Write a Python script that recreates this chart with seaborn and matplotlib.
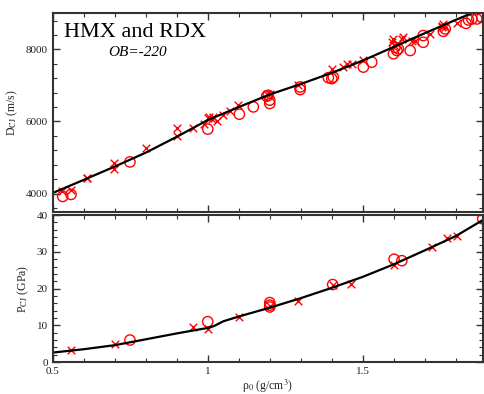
import numpy as np
import pandas as pd
import matplotlib
matplotlib.use("Agg")
import matplotlib.pyplot as plt
import seaborn as sns
from matplotlib.ticker import MultipleLocator

# kurva model (garis hitam)
rho_fit = [0.49, 0.6, 0.7, 0.8, 0.9, 1.0, 1.1, 1.2, 1.3, 1.4, 1.5, 1.6, 1.7, 1.8, 1.9]
D_fit = [3980, 4380, 4750, 5135, 5575, 6040, 6400, 6750, 7040, 7350, 7690, 8070, 8450, 8820, 9180]

rho_fit_p = [0.49, 0.6, 0.7, 0.8, 0.9, 1.0, 1.02, 1.05, 1.1, 1.2, 1.3, 1.4, 1.5, 1.6, 1.7, 1.8, 1.9]
P_fit = [2.5, 3.5, 4.6, 6.2, 7.8, 9.3, 9.8, 11.1, 12.4, 14.8, 17.4, 20.2, 23.2, 26.6, 30.4, 34.3, 39.3]

# data eksperimen D_CJ (x)
rho_D_x = [0.529, 0.558, 0.610, 0.612, 0.699, 0.699, 0.800, 0.900, 0.900, 0.952, 0.988, 1.0, 1.005,
           1.013, 1.018, 1.029, 1.048, 1.072, 1.099, 1.19, 1.20, 1.292, 1.40, 1.437, 1.448, 1.465,
           1.502, 1.594, 1.599, 1.604, 1.610, 1.626, 1.631, 1.658, 1.669, 1.717, 1.755, 1.760,
           1.766, 1.755, 1.803]
D_x = [4083, 4105, 4418, 4430, 4843, 4677, 5256, 5808, 5596, 5808, 5927, 6085, 6112,
       6073, 6112, 6002, 6176, 6294, 6451, 6755, 6775, 7023, 7465, 7509, 7583, 7602,
       7694, 8199, 8293, 8108, 8155, 8293, 8337, 8246, 8246, 8431, 8660, 8707,
       8613, 8613, 8723]

# data eksperimen D_CJ (o)
rho_D_o = [0.532, 0.559, 0.749, 1.0, 1.102, 1.147, 1.19, 1.195, 1.20, 1.20, 1.298, 1.298,
           1.389, 1.40, 1.405, 1.502, 1.529, 1.599, 1.604, 1.610, 1.615, 1.653, 1.695, 1.695,
           1.760, 1.766, 1.833, 1.841, 1.852, 1.868, 1.884]
D_o = [3920, 3976, 4878, 5789, 6203, 6405, 6700, 6728, 6592, 6499, 6957, 6885,
       7216, 7189, 7233, 7509, 7647, 7879, 8061, 7970, 8017, 7970, 8384, 8199,
       8503, 8569, 8723, 8817, 8845, 8845, 8889]

# data eksperimen P_CJ
rho_P_x = [0.558, 0.701, 0.952, 1.0, 1.1, 1.2, 1.292, 1.403, 1.461, 1.601, 1.722, 1.771, 1.803]
P_x = [3.3, 4.9, 9.6, 8.9, 12.3, 15.2, 16.7, 21.0, 21.2, 26.3, 31.3, 33.8, 34.2]
rho_P_o = [0.749, 1.0, 1.2, 1.2, 1.2, 1.403, 1.601, 1.626, 1.887]
P_o = [6.0, 11.0, 16.2, 15.5, 15.0, 21.1, 28.0, 27.6, 39.0]

sns.set_style("ticks")
plt.rcParams['font.family'] = ['Liberation Serif', 'DejaVu Serif']
plt.rcParams['mathtext.fontset'] = 'stix'

fig = plt.figure(figsize=(4.84, 3.94), dpi=100)
ax1 = fig.add_axes([0.109, 0.463, 0.889, 0.503])
ax2 = fig.add_axes([0.109, 0.081, 0.889, 0.373])

red = '#ff0000'

# panel atas
sns.lineplot(x=rho_fit, y=D_fit, ax=ax1, color='black', linewidth=1.6, sort=False)
sns.scatterplot(x=rho_D_x, y=D_x, ax=ax1, marker='x', color=red, s=30, linewidth=1.0)
pts = sns.scatterplot(x=rho_D_o, y=D_o, ax=ax1, marker='o', s=55)
pts.collections[-1].set_facecolor('none')
pts.collections[-1].set_edgecolor(red)
pts.collections[-1].set_linewidth(1.0)

# panel bawah
sns.lineplot(x=rho_fit_p, y=P_fit, ax=ax2, color='black', linewidth=1.6, sort=False)
sns.scatterplot(x=rho_P_x, y=P_x, ax=ax2, marker='x', color=red, s=30, linewidth=1.0)
pts2 = sns.scatterplot(x=rho_P_o, y=P_o, ax=ax2, marker='o', s=55)
pts2.collections[-1].set_facecolor('none')
pts2.collections[-1].set_edgecolor(red)
pts2.collections[-1].set_linewidth(1.0)

for ax in (ax1, ax2):
    ax.set_xlim(0.5, 1.888)
    ax.xaxis.set_major_locator(MultipleLocator(0.5))
    ax.xaxis.set_minor_locator(MultipleLocator(0.1))
    ax.tick_params(which='both', direction='in', top=True, right=True,
                   labelsize=8, colors='#333333', labelcolor='#222222')
    ax.tick_params(which='major', length=5, width=1.0)
    ax.tick_params(which='minor', length=3, width=0.8)
    for sp in ax.spines.values():
        sp.set_linewidth(1.5)
        sp.set_color('#333333')

ax1.set_ylim(3500, 9000)
ax1.yaxis.set_major_locator(MultipleLocator(2000))
ax1.yaxis.set_minor_locator(MultipleLocator(400))
ax1.tick_params(labelbottom=False)
ax1.set_ylabel(r'D$_{\rm CJ}$ (m/s)', fontsize=8.5, labelpad=4)

ax2.set_ylim(0, 40)
ax2.yaxis.set_major_locator(MultipleLocator(10))
ax2.yaxis.set_minor_locator(MultipleLocator(2))
ax2.set_ylabel(r'P$_{\rm CJ}$ (GPa)', fontsize=8.5, labelpad=4)
ax2.set_xlabel(r'ρ$_0$ (g/cm$^3$)', fontsize=8.5, labelpad=1)
ax2.set_xticks([0.5, 1, 1.5])
ax2.set_xticklabels(['0.5', '1', '1.5'])

ax1.text(0.025, 0.88, 'HMX and RDX', transform=ax1.transAxes, fontsize=16, color='black')
ax1.text(0.13, 0.785, 'OB=-220', transform=ax1.transAxes, fontsize=11, style='italic', color='black')

fig.savefig('out.png', dpi=100)
